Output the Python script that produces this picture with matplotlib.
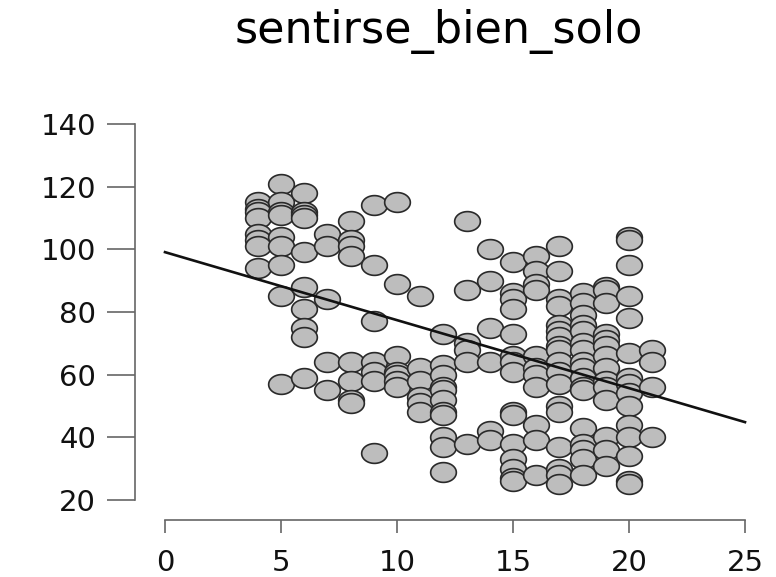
import numpy as np
import matplotlib
matplotlib.use("Agg")
import matplotlib.pyplot as plt
from matplotlib.path import Path

# values, grouped by x
x4 = [115, 113, 112, 110, 105, 103, 101, 94]
x5 = [121, 115, 112, 111, 104, 101, 95, 85, 57]
x6 = [118, 112, 111, 110, 99, 88, 81, 75, 72, 59]
x7 = [105, 101, 84, 64, 55]
x8 = [109, 103, 101, 98, 64, 58, 52, 51]
x9 = [114, 95, 77, 64, 61, 58, 35]
x10 = [115, 89, 66, 61, 60, 58, 56]
x11 = [85, 62, 58, 53, 51, 48]
x12 = [73, 63, 60, 56, 55, 52, 48, 47, 40, 37, 29]
x13 = [109, 87, 70, 68, 64, 38]
x14 = [100, 90, 75, 64, 42, 39]
x15 = [96, 86, 84, 81, 73, 66, 64, 61, 48, 47, 38, 33, 30, 27, 26]
x16 = [98, 93, 89, 87, 66, 62, 60, 56, 44, 39, 28]
x17 = [101, 93, 84, 82, 76, 74, 72, 69, 68, 64, 61, 57, 50, 48, 37, 30, 28, 25]
x18 = [86, 83, 79, 76, 74, 70, 68, 64, 62, 59, 56, 55, 43, 38, 36, 33, 28]
x19 = [88, 87, 83, 73, 71, 69, 66, 62, 58, 56, 52, 40, 36, 31]
x20 = [104, 103, 95, 85, 78, 67, 59, 57, 54, 50, 44, 40, 34, 26, 25]
x21 = [68, 64, 56, 40]

columns = {4: x4, 5: x5, 6: x6, 7: x7, 8: x8, 9: x9, 10: x10, 11: x11,
           12: x12, 13: x13, 14: x14, 15: x15, 16: x16, 17: x17, 18: x18,
           19: x19, 20: x20, 21: x21}

# fitted line
intercept = 99.1
slope = -2.17

xticks = [0, 5, 10, 15, 20, 25]
yticks = [20, 40, 60, 80, 100, 120, 140]

xs = []
ys = []
for k, vals in columns.items():
    xs += [k] * len(vals)
    ys += vals

# slightly wide ellipse marker (the reference is stretched sideways)
t = np.linspace(0, 2 * np.pi, 60)
ell = Path(np.column_stack([1.3 * np.cos(t), np.sin(t)]), closed=True)

fig = plt.figure(figsize=(7.76, 5.77), dpi=100)
ax = fig.add_axes([165 / 776, 77 / 577, 580 / 776, 376 / 577])

ax.scatter(xs, ys, s=18.5 ** 2, marker=ell, facecolor="#bdbdbd",
           edgecolor="#2a2a2a", linewidth=1.2, clip_on=False, zorder=2)

lx = np.array([0, 25])
ax.plot(lx, intercept + slope * lx, color="#111111", lw=1.9, zorder=3,
        clip_on=False)

ax.set_xlim(0, 25)
ax.set_ylim(20, 140)
ax.set_xticks(xticks)
ax.set_yticks(yticks)

for side in ["top", "right"]:
    ax.spines[side].set_visible(False)
ax.spines["left"].set_position(("outward", 21.6))
ax.spines["bottom"].set_position(("outward", 14.4))
ax.spines["left"].set_bounds(20, 140)
ax.spines["bottom"].set_bounds(0, 25)
for side in ["left", "bottom"]:
    ax.spines[side].set_color("#666666")
    ax.spines[side].set_linewidth(1.2)

ax.tick_params(axis="y", length=20, width=1.2, color="#666666", pad=8,
               labelsize=21, labelcolor="#111111")
ax.tick_params(axis="x", length=9, width=1.2, color="#666666", pad=12,
               labelsize=21, labelcolor="#111111")

fig.text(439 / 776, 1 - 32 / 577, "sentirse_bien_solo", fontsize=32,
         ha="center", va="center", color="#000000")

fig.savefig("out.png", dpi=100)
